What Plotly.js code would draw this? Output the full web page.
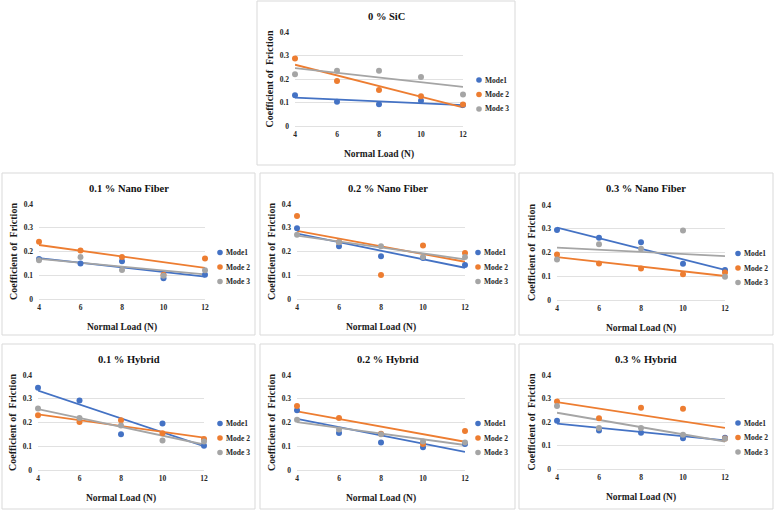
<!DOCTYPE html>
<html>
<head>
<meta charset="utf-8">
<script src="https://cdn.plot.ly/plotly-3.0.1.min.js"></script>
<style>
  html, body { margin: 0; padding: 0; background: #ffffff; }
  #chart { width: 776px; height: 511px; }
</style>
</head>
<body>
<div id="chart"></div>
<script>
// Normal load (N) applied in every test
const normalLoad = [4, 6, 8, 10, 12];
const seriesNames = ['Mode1', 'Mode 2', 'Mode 3'];
const panelTitles = ['0 % SiC', '0.1 % Nano Fiber', '0.2 % Nano Fiber', '0.3 % Nano Fiber',
                     '0.1 % Hybrid', '0.2 % Hybrid', '0.3 % Hybrid'];

// Coefficient of friction per material and mode
const sic0Mode1 = [0.131, 0.103, 0.093, 0.107, 0.089];
const sic0Mode2 = [0.287, 0.191, 0.153, 0.127, 0.092];
const sic0Mode3 = [0.220, 0.235, 0.235, 0.208, 0.134];

const nano01Mode1 = [0.168, 0.149, 0.159, 0.087, 0.102];
const nano01Mode2 = [0.241, 0.204, 0.177, 0.102, 0.171];
const nano01Mode3 = [0.163, 0.177, 0.122, 0.098, 0.121];

const nano02Mode1 = [0.298, 0.222, 0.180, 0.173, 0.143];
const nano02Mode2 = [0.349, 0.240, 0.101, 0.225, 0.194];
const nano02Mode3 = [0.271, 0.239, 0.222, 0.177, 0.177];

const nano03Mode1 = [0.295, 0.262, 0.243, 0.153, 0.126];
const nano03Mode2 = [0.192, 0.154, 0.133, 0.108, 0.116];
const nano03Mode3 = [0.171, 0.235, 0.216, 0.293, 0.098];

const hyb01Mode1 = [0.346, 0.293, 0.150, 0.196, 0.102];
const hyb01Mode2 = [0.230, 0.202, 0.209, 0.155, 0.131];
const hyb01Mode3 = [0.259, 0.219, 0.187, 0.124, 0.120];

const hyb02Mode1 = [0.252, 0.156, 0.116, 0.096, 0.109];
const hyb02Mode2 = [0.269, 0.219, 0.153, 0.109, 0.164];
const hyb02Mode3 = [0.212, 0.170, 0.150, 0.120, 0.116];

const hyb03Mode1 = [0.205, 0.164, 0.154, 0.131, 0.133];
const hyb03Mode2 = [0.287, 0.216, 0.261, 0.256, 0.130];
const hyb03Mode3 = [0.268, 0.174, 0.174, 0.146, 0.129];

const panelData = [
  [sic0Mode1, sic0Mode2, sic0Mode3],
  [nano01Mode1, nano01Mode2, nano01Mode3],
  [nano02Mode1, nano02Mode2, nano02Mode3],
  [nano03Mode1, nano03Mode2, nano03Mode3],
  [hyb01Mode1, hyb01Mode2, hyb01Mode3],
  [hyb02Mode1, hyb02Mode2, hyb02Mode3],
  [hyb03Mode1, hyb03Mode2, hyb03Mode3]
];

// ---- presentation ----
const W = 776, H = 511;
const colors = ['#4472C4', '#ED7D31', '#A5A5A5'];
const serif = 'Liberation Serif, Times New Roman, serif';

// pixel frames: outer box, plot area, legend marker column
const frames = [
  { box: [257, 1, 515, 165],   plot: [295, 32, 463, 126],  legendX: 479 },
  { box: [2, 173, 255, 335],   plot: [39, 204, 205, 299],  legendX: 220 },
  { box: [260, 173, 515, 335], plot: [297, 204, 465, 299], legendX: 478 },
  { box: [519, 173, 773, 335], plot: [557, 205, 725, 300], legendX: 738 },
  { box: [2, 344, 255, 509],   plot: [38, 375, 204, 470],  legendX: 220 },
  { box: [260, 344, 515, 509], plot: [297, 375, 465, 470], legendX: 478 },
  { box: [519, 344, 773, 509], plot: [557, 375, 725, 469], legendX: 738 }
];

const px = v => v / W;
const py = v => 1 - v / H;

// least-squares linear trendline evaluated at the ends of the load range
function trend(xs, ys) {
  const n = xs.length;
  const mx = xs.reduce((a, b) => a + b, 0) / n;
  const my = ys.reduce((a, b) => a + b, 0) / n;
  let sxy = 0, sxx = 0;
  for (let i = 0; i < n; i++) {
    sxy += (xs[i] - mx) * (ys[i] - my);
    sxx += (xs[i] - mx) * (xs[i] - mx);
  }
  const slope = sxy / sxx;
  const x0 = Math.min(...xs), x1 = Math.max(...xs);
  return { x: [x0, x1], y: [my + slope * (x0 - mx), my + slope * (x1 - mx)] };
}

const traces = [];
const layout = {
  width: W, height: H,
  margin: { l: 0, r: 0, t: 0, b: 0 },
  paper_bgcolor: '#ffffff',
  plot_bgcolor: '#ffffff',
  showlegend: false,
  shapes: [],
  annotations: []
};

frames.forEach((f, i) => {
  const k = i + 1;
  const xa = 'x' + k, ya = 'y' + k;

  panelData[i].forEach((vals, j) => {
    const t = trend(normalLoad, vals);
    traces.push({
      type: 'scatter', mode: 'lines', x: t.x, y: t.y,
      xaxis: xa, yaxis: ya, hoverinfo: 'skip',
      line: { color: colors[j], width: 1.8 }
    });
  });
  panelData[i].forEach((vals, j) => {
    traces.push({
      type: 'scatter', mode: 'markers', name: seriesNames[j],
      x: normalLoad, y: vals, xaxis: xa, yaxis: ya,
      cliponaxis: false,
      marker: { color: colors[j], size: 6 }
    });
  });

  layout['xaxis' + k] = {
    domain: [px(f.plot[0]), px(f.plot[2])],
    anchor: ya,
    range: [4, 12], tick0: 4, dtick: 2,
    showgrid: false, zeroline: false,
    showline: true, linecolor: '#d9d9d9', linewidth: 0.8,
    ticks: '', ticklabelstandoff: 1,
    tickfont: { family: serif, size: 7.5, weight: 'bold', color: '#262626' },
    title: { text: 'Normal Load (N)', standoff: 12,
             font: { family: serif, size: 9.5, weight: 'bold', color: '#1a1a1a' } },
    fixedrange: true
  };
  layout['yaxis' + k] = {
    domain: [py(f.plot[3]), py(f.plot[1])],
    anchor: xa,
    range: [0, 0.4], tick0: 0, dtick: 0.1,
    showgrid: true, gridcolor: '#d9d9d9', gridwidth: 0.8,
    zeroline: false, showline: false,
    ticks: '', ticklabelstandoff: 5,
    tickfont: { family: serif, size: 7.5, weight: 'bold', color: '#262626' },
    title: { text: 'Coefficient of  Friction', standoff: 4,
             font: { family: serif, size: 10, weight: 'bold', color: '#1a1a1a' } },
    fixedrange: true
  };

  // panel frame
  layout.shapes.push({
    type: 'rect', xref: 'paper', yref: 'paper', layer: 'below',
    x0: px(f.box[0]), x1: px(f.box[2]), y0: py(f.box[3]), y1: py(f.box[1]),
    line: { color: '#d9d9d9', width: 1 }, fillcolor: 'rgba(0,0,0,0)'
  });

  // panel title
  layout.annotations.push({
    xref: 'paper', yref: 'paper', showarrow: false,
    x: px((f.box[0] + f.box[2]) / 2), y: py(f.plot[1] - 16),
    xanchor: 'center', yanchor: 'middle',
    text: panelTitles[i],
    font: { family: serif, size: 10.5, weight: 'bold', color: '#111111' }
  });

  // legend keys
  const midY = (f.plot[1] + f.plot[3]) / 2;
  seriesNames.forEach((name, j) => {
    const cy = midY + 1 + j * 14.5;
    layout.shapes.push({
      type: 'circle', xref: 'paper', yref: 'paper',
      x0: px(f.legendX - 2.8), x1: px(f.legendX + 2.8),
      y0: py(cy + 2.8), y1: py(cy - 2.8),
      line: { width: 0 }, fillcolor: colors[j]
    });
    layout.annotations.push({
      xref: 'paper', yref: 'paper', showarrow: false,
      x: px(f.legendX + 4), y: py(cy),
      xanchor: 'left', yanchor: 'middle',
      text: name,
      font: { family: serif, size: 7.5, weight: 'bold', color: '#262626' }
    });
  });
});

Plotly.newPlot('chart', traces, layout, { staticPlot: true, displayModeBar: false });
</script>
</body>
</html>
